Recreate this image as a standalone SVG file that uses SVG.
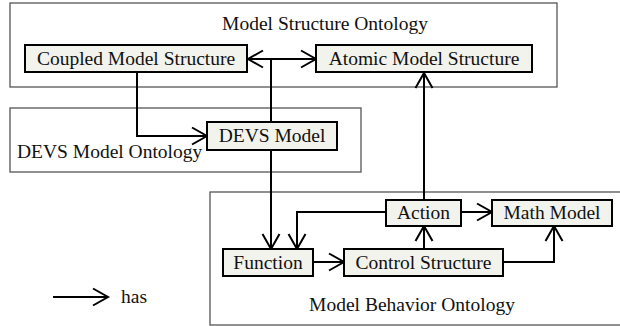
<svg xmlns="http://www.w3.org/2000/svg" width="620" height="326" viewBox="0 0 620 326">
  <style>
    .onto { fill: #ffffff; stroke: #555555; stroke-width: 1.3; }
    .node rect { fill: #f1f3ec; stroke: #000000; stroke-width: 2; }
    text { font-family: "Liberation Serif", "Times New Roman", serif; font-size: 19.5px; fill: #111111; }
    .mid { text-anchor: middle; }
    .conn path { fill: none; stroke: #000000; stroke-width: 2; }
  </style>
  <defs>
    <marker id="has" markerUnits="userSpaceOnUse" markerWidth="20" markerHeight="20" viewBox="-17 -10 19 20" refX="0" refY="0" orient="auto-start-reverse">
      <path d="M-15,-8.5 L0,0 L-15,8.5" fill="none" stroke="#000000" stroke-width="2"/>
    </marker>
  </defs>
  <rect width="620" height="326" fill="#ffffff"/>

  <!-- ontology regions -->
  <g id="model-structure-ontology">
    <rect class="onto" x="10" y="3" width="547" height="84"/>
    <text class="mid" x="325" y="30">Model Structure Ontology</text>
  </g>
  <g id="devs-model-ontology">
    <rect class="onto" x="10" y="108" width="351" height="64"/>
    <text x="17" y="158">DEVS Model Ontology</text>
  </g>
  <g id="model-behavior-ontology">
    <rect class="onto" x="210" y="192" width="420" height="133"/>
    <text class="mid" x="412" y="311">Model Behavior Ontology</text>
  </g>

  <!-- connectors -->
  <g id="connectors" class="conn">
    <path d="M271,122 V59"/>
    <path d="M248,59 H316" marker-start="url(#has)" marker-end="url(#has)"/>
    <path d="M137,72 V136 H207" marker-end="url(#has)"/>
    <path d="M271,150 V249" marker-end="url(#has)"/>
    <path d="M424,200 V73" marker-end="url(#has)"/>
    <path d="M461,212 H492" marker-end="url(#has)"/>
    <path d="M386,212 H297 V249" marker-end="url(#has)"/>
    <path d="M313,262 H344" marker-end="url(#has)"/>
    <path d="M424,249 V226" marker-end="url(#has)"/>
    <path d="M503,262 H554 V226" marker-end="url(#has)"/>
  </g>

  <!-- nodes -->
  <g id="coupled-model-structure" class="node">
    <rect x="25" y="45" width="222" height="27"/>
    <text class="mid" x="136" y="65">Coupled Model Structure</text>
  </g>
  <g id="atomic-model-structure" class="node">
    <rect x="316" y="45" width="216" height="27"/>
    <text class="mid" x="424" y="65">Atomic Model Structure</text>
  </g>
  <g id="devs-model" class="node">
    <rect x="207" y="122" width="130" height="28"/>
    <text class="mid" x="272" y="142">DEVS Model</text>
  </g>
  <g id="action" class="node">
    <rect x="386" y="200" width="75" height="26"/>
    <text class="mid" x="423.5" y="219">Action</text>
  </g>
  <g id="math-model" class="node">
    <rect x="492" y="200" width="120" height="26"/>
    <text class="mid" x="552" y="219">Math Model</text>
  </g>
  <g id="function" class="node">
    <rect x="223" y="249" width="90" height="27"/>
    <text class="mid" x="268" y="269">Function</text>
  </g>
  <g id="control-structure" class="node">
    <rect x="344" y="249" width="159" height="27"/>
    <text class="mid" x="423.5" y="269">Control Structure</text>
  </g>

  <!-- legend -->
  <g id="legend" class="conn">
    <path d="M53,297 H108" marker-end="url(#has)"/>
    <text x="121" y="303">has</text>
  </g>
</svg>
